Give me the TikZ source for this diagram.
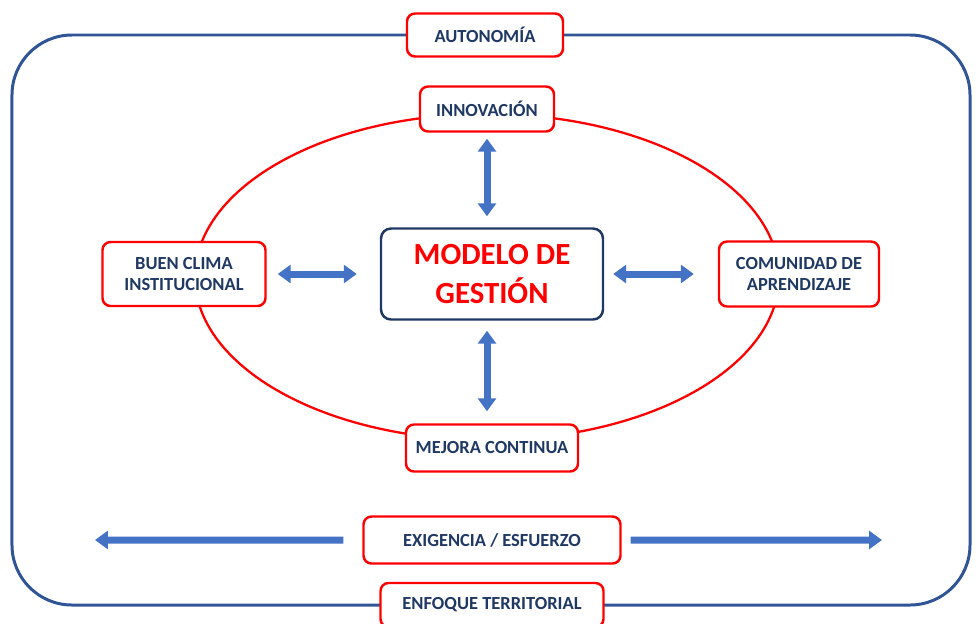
\documentclass[tikz,border=0pt]{standalone}
\usepackage{fontspec}
\setmainfont{Carlito}
\usetikzlibrary{shapes,arrows.meta}

\definecolor{framenavy}{HTML}{2F5597}
\definecolor{textnavy}{HTML}{1F3864}
\definecolor{arrowblue}{HTML}{4472C4}
\definecolor{boxred}{HTML}{FF0000}

\begin{document}
\begin{tikzpicture}[auto, node distance=3cm]
    	 	% Define block styles
    	 	\tikzstyle{block} = [rectangle, draw=boxred, line width=1.4pt, fill=white, text=textnavy, font=\bfseries\fontsize{10.5}{12.5}\selectfont, align=center, rounded corners=0.16cm, inner sep=2pt]
    	 	\tikzstyle{core} = [rectangle, draw=textnavy, line width=1.4pt, fill=white, text=boxred, font=\bfseries\fontsize{17.5}{22}\selectfont, align=center, rounded corners=0.2cm, minimum width=4.44cm, minimum height=1.82cm]
    	 	\tikzstyle{line} = [draw=arrowblue, line width=0.14cm, {Triangle[width=0.36cm, length=0.26cm]}-{Triangle[width=0.36cm, length=0.26cm]}]
    	 	\tikzstyle{oneway} = [draw=arrowblue, line width=0.14cm, -{Triangle[width=0.36cm, length=0.26cm]}]
    	 	
    	 	\useasboundingbox (-9.84,-6.98) rectangle (9.68,5.48);
    	 	
    	 	% Frame and ring
    	 	\draw [framenavy, line width=1.7pt, rounded corners=1.2cm] (-9.6,-6.62) rectangle (9.56,4.78);
    	 	\draw [boxred, line width=1.3pt] (-0.1,-0.06) ellipse [x radius=5.84cm, y radius=3.26cm];
    	 	
    	 	% Nodes
    	 	\node [core] (modelo) {MODELO DE\\GESTIÓN};
    	 	\node [block, above of=modelo, node distance=3.3cm, xshift=-0.1cm, minimum width=2.68cm, minimum height=0.9cm] (innovacion) {INNOVACIÓN};
    	 	\node [block, above of=innovacion, node distance=1.48cm, xshift=-0.04cm, minimum width=3.12cm, minimum height=0.86cm] (autonomia) {AUTONOMÍA};
    	 	\node [block, left of=modelo, node distance=6.16cm, minimum width=3.26cm, minimum height=1.28cm] (buen clima) {BUEN CLIMA\\INSTITUCIONAL};
    	 	\node [block, right of=modelo, node distance=6.14cm, minimum width=3.2cm, minimum height=1.3cm] (comunidad) {COMUNIDAD DE\\APRENDIZAJE};
    	 	\node [block, below of=modelo, node distance=3.48cm, minimum width=3.44cm, minimum height=0.94cm] (mejora) {MEJORA CONTINUA};
    	 	\node [block, below of=mejora, node distance=1.84cm, minimum width=5.14cm, minimum height=0.94cm] (exigencia) {EXIGENCIA / ESFUERZO};
    	 	\node [block, below of=exigencia, node distance=1.3cm, minimum width=4.46cm, minimum height=0.88cm] (enfoque) {ENFOQUE TERRITORIAL};
    	 	\coordinate (west end) at (-7.94,-5.32);
    	 	\coordinate (east end) at (7.8,-5.32);
    	 	
    	 	% Connecting lines
    	 	\path [line, shorten <=0.12cm, shorten >=0.22cm] (innovacion) -- (innovacion |- modelo.north);
    	 	\path [line, shorten <=0.2cm, shorten >=0.24cm] (innovacion |- modelo.south) -- (innovacion |- mejora.north);
    	 	\path [line, shorten <=0.22cm, shorten >=0.46cm] (buen clima) -- (modelo);
    	 	\path [line, shorten <=0.18cm, shorten >=0.48cm] (modelo) -- (comunidad);
    	 	\path [oneway, shorten <=0.38cm] (exigencia.west) -- (west end);
    	 	\path [oneway, shorten <=0.18cm] (exigencia.east) -- (east end);
     	\end{tikzpicture}
\end{document}
